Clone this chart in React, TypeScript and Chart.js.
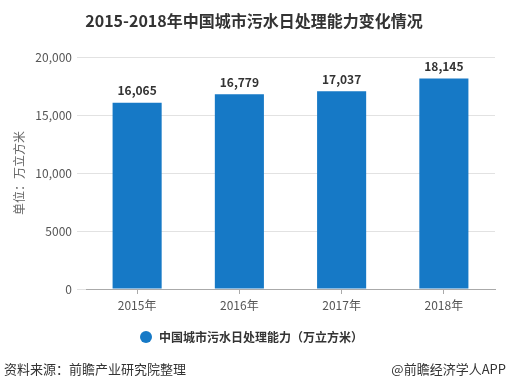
import React, { useEffect, useRef } from "react";
import { Chart, registerables } from "chart.js";

Chart.register(...registerables);

const categories = ["2015年", "2016年", "2017年", "2018年"];
const values = [16065, 16779, 17037, 18145];
const yMax = 20000;
const yStep = 5000;
const titleText = "2015-2018年中国城市污水日处理能力变化情况";
const seriesName = "中国城市污水日处理能力（万立方米）";
const yAxisLabel = "单位：万立方米";
const sourceText = "资料来源：前瞻产业研究院整理";
const brandText = "@前瞻经济学人APP";

const FONT = "'Noto Sans CJK SC', 'Microsoft YaHei', sans-serif";
const BAR_COLOR = "#1679c6";

const fmt = (v: number) => (v >= 10000 ? v.toLocaleString("en-US") : String(v));

const decorPlugin = {
  id: "decor",
  afterDraw(chart: any) {
    const ctx = chart.ctx as CanvasRenderingContext2D;
    const W = chart.width;
    ctx.save();
    // title
    ctx.fillStyle = "#333";
    ctx.font = `bold 16px ${FONT}`;
    ctx.textAlign = "center";
    ctx.textBaseline = "middle";
    ctx.fillText(titleText, W / 2, 21);

    // data labels
    const meta = chart.getDatasetMeta(0);
    ctx.font = `bold 12px ${FONT}`;
    ctx.fillStyle = "#333";
    ctx.textBaseline = "middle";
    meta.data.forEach((el: any, i: number) => {
      ctx.fillText(fmt(values[i]), el.x, el.y - 12);
    });

    // y axis label
    ctx.save();
    ctx.translate(19, 173);
    ctx.rotate(-Math.PI / 2);
    ctx.font = `12px ${FONT}`;
    ctx.fillStyle = "#666";
    ctx.textAlign = "center";
    ctx.fillText(yAxisLabel, 0, 0);
    ctx.restore();

    // legend
    ctx.fillStyle = BAR_COLOR;
    ctx.beginPath();
    ctx.arc(146, 337, 6, 0, Math.PI * 2);
    ctx.fill();
    ctx.fillStyle = "#333";
    ctx.font = `bold 12px ${FONT}`;
    ctx.textAlign = "left";
    ctx.fillText(seriesName, 159, 337);

    // footer
    ctx.font = `13px ${FONT}`;
    ctx.fillStyle = "#333";
    ctx.textAlign = "left";
    ctx.fillText(sourceText, 4, 369);
    ctx.textAlign = "right";
    ctx.fillText(brandText, 506, 369);
    ctx.restore();
  },
};

export default function App() {
  const ref = useRef<HTMLCanvasElement | null>(null);
  useEffect(() => {
    document.body.style.margin = "0";
    const chart = new Chart(ref.current as HTMLCanvasElement, {
      type: "bar",
      data: {
        labels: categories,
        datasets: [
          {
            label: seriesName,
            data: values,
            backgroundColor: BAR_COLOR,
            barPercentage: 0.48,
            categoryPercentage: 1,
          },
        ],
      },
      options: {
        responsive: false,
        animation: false,
        devicePixelRatio: 1,
        layout: { padding: { top: 57, right: 13, left: 0, bottom: 0 } },
        plugins: {
          legend: { display: false },
          title: { display: false },
          tooltip: { enabled: false },
        },
        scales: {
          x: {
            grid: {
              display: true,
              drawOnChartArea: false,
              offset: false,
              tickLength: 5,
              color: "#aaa",
            },
            border: { color: "#aaa" },
            ticks: { font: { size: 12, family: FONT }, color: "#555", padding: 4 },
            afterFit: (s: any) => {
              s.height = 101;
            },
          },
          y: {
            min: 0,
            max: yMax,
            ticks: {
              stepSize: yStep,
              font: { size: 12, family: FONT },
              color: "#555",
              padding: 5,
              callback: (v: any) => fmt(Number(v)),
            },
            grid: { color: "#e2e2e2", tickLength: 9 },
            border: { display: false },
            afterFit: (s: any) => {
              s.width = 86;
            },
          },
        },
      },
      plugins: [decorPlugin],
    });
    return () => chart.destroy();
  }, []);
  return (
    <div style={{ position: "absolute", left: 0, top: 0, width: 508, height: 390, background: "#fff" }}>
      <canvas ref={ref} width={508} height={390} />
    </div>
  );
}
